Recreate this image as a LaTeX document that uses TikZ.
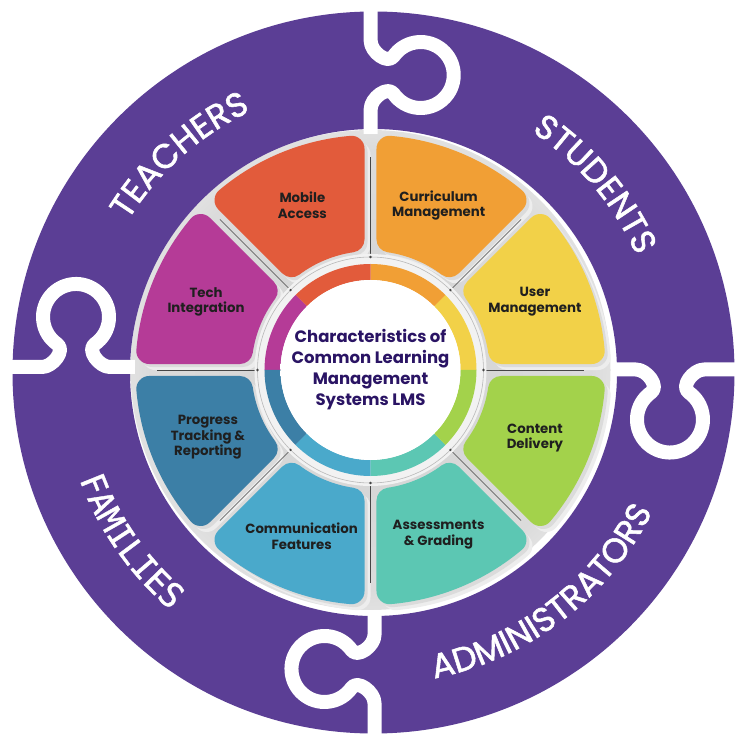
\documentclass[tikz,border=0pt]{standalone}
\usepackage{fontspec}
\setmainfont{Poppins}
\newfontfamily\ringfam{Poppins}[FakeBold=1.6]
\newfontfamily\monofam{DejaVu Sans Mono}[FakeBold=1.2]
\usetikzlibrary{decorations.text}

\definecolor{ringpurple}{HTML}{5B3E95}
\definecolor{cUser}{HTML}{F2D148}
\definecolor{cCurr}{HTML}{F19F35}
\definecolor{cMob}{HTML}{E25B3B}
\definecolor{cTech}{HTML}{B53B97}
\definecolor{cProg}{HTML}{3C7FA6}
\definecolor{cComm}{HTML}{4AA9CB}
\definecolor{cAss}{HTML}{5CC7B3}
\definecolor{cCont}{HTML}{A3D24B}
\definecolor{titlepurple}{HTML}{2A1464}

\pgfdeclareradialshading{gapshade}{\pgfpoint{0bp}{0bp}}{color(0bp)=(gray!35); color(23bp)=(gray!28); color(36bp)=(white); color(50bp)=(white)}
\pgfdeclareradialshading{discshade}{\pgfpoint{0bp}{0bp}}{color(0bp)=(white); color(36bp)=(white); color(50bp)=(gray!14)}

\newcommand\ringfont{\ringfam\fontsize{34}{34}\selectfont}
\newcommand\famfont{\monofam\fontsize{33.5}{33.5}\selectfont}

\tikzset{
  seglabel/.style={align=center, font=\bfseries\fontsize{13.3}{15.7}\selectfont, text=black!88},
  titlelabel/.style={align=center, font=\bfseries\fontsize{16.5}{21}\selectfont, text=titlepurple},
  cutband/.style={white, line width=14, line join=round},
  gapline/.style={draw=gray!55!black, line width=0.5},
  segfill/.style={line width=26, line join=round},
}

\begin{document}
\begin{tikzpicture}[x=1pt,y=1pt]
\useasboundingbox (-373,-374) rectangle (373,372);

% soft grey background behind the wheel
\begin{scope}[shift={(-2.5,2)}]
  \shade[shading=gapshade] (0,0) circle[radius=240];
\end{scope}

% purple ring
\fill[ringpurple, even odd rule] (0.5,-0.5) circle[radius=361] (0.5,-0.5) circle[radius=243.5];

% puzzle cuts
\foreach \rot/\off in {0/-2.3,-90/-2.5,180/-1.5,90/5}{
  \begin{scope}[rotate=\rot, xshift=\off pt]
    \draw[cutband] (0,378) -- (0,331) to[out=-90,in=235] (23,315.9)
      arc[start angle=145,end angle=-145,radius=33]
      to[out=125,in=90] (0,263) -- (0,238);
  \end{scope}
}

% ring texts
\path[decorate, decoration={text along path, text={|\ringfont|TEACHERS}, text align=center, text color=white}]
  (171.7:288) arc[start angle=171.7, end angle=91.7, radius=288];
\path[decorate, decoration={text along path, text={|\ringfont|STUDENTS}, text align=center, text color=white}]
  (80.2:288) arc[start angle=80.2, end angle=0.2, radius=288];
\path[decorate, decoration={text along path, text={|\ringfont|ADMINISTRATORS}, text align=center, text color=white}]
  (-102.6:312.5) arc[start angle=-102.6, end angle=-2.6, radius=312.5];
\path[decorate, decoration={text along path, text={|\famfont|FAMILIES}, text align=center, text color=white}]
  (174.9:312.5) arc[start angle=174.9, end angle=254.9, radius=312.5];

% wheel
\begin{scope}[shift={(-2.5,2)}]
  \pgfmathsetmacro\ri{132}
  \pgfmathsetmacro\ro{222}
  \pgfmathsetmacro\dout{asin(19/\ro)}
  \pgfmathsetmacro\din{asin(19/\ri)}
  % shadows
  \foreach \a in {0,45,...,315}{
    \filldraw[segfill, gray!14, shift={(6,-6)}] ({\a+\din}:\ri) -- ({\a+\dout}:\ro)
      arc[start angle={\a+\dout}, end angle={\a+45-\dout}, radius=\ro]
      -- ({\a+45-\din}:\ri) arc[start angle={\a+45-\din}, end angle={\a+\din}, radius=\ri] -- cycle;
  }
  \foreach \a in {0,45,...,315}{
    \filldraw[segfill, gray!28, shift={(3,-3)}] ({\a+\din}:\ri) -- ({\a+\dout}:\ro)
      arc[start angle={\a+\dout}, end angle={\a+45-\dout}, radius=\ro]
      -- ({\a+45-\din}:\ri) arc[start angle={\a+45-\din}, end angle={\a+\din}, radius=\ri] -- cycle;
  }
  % segments
  \foreach \a/\col in {0/cUser,45/cCurr,90/cMob,135/cTech,180/cProg,225/cComm,270/cAss,315/cCont}{
    \filldraw[segfill, \col] ({\a+\din}:\ri) -- ({\a+\dout}:\ro)
      arc[start angle={\a+\dout}, end angle={\a+45-\dout}, radius=\ro]
      -- ({\a+45-\din}:\ri) arc[start angle={\a+45-\din}, end angle={\a+\din}, radius=\ri] -- cycle;
  }
  % divider lines
  \foreach \a in {0,45,...,315}{
    \draw[gapline] (\a:113) -- (\a:213);
  }
  % bezel
  \fill[gray!10] (0,0) circle[radius=116];
  \draw[gray!55, line width=0.6] (0,0) circle[radius=113];
  \foreach \a in {0,45,...,315}{
    \fill[gray!55!black] (\a:113) circle[radius=1.3];
  }
  % coloured inner ring
  \foreach \a/\col in {0/cUser,45/cCurr,90/cMob,135/cTech,180/cProg,225/cComm,270/cAss,315/cCont}{
    \fill[\col] (\a:106) arc[start angle=\a, end angle={\a+45}, radius=106]
      -- ({\a+45}:90) arc[start angle={\a+45}, end angle=\a, radius=90] -- cycle;
  }
  \shade[shading=discshade] (0,0) circle[radius=90];

  % labels
  \node[seglabel] (lUser) at (22.5:178) {User\\Management};
  \node[seglabel] (lCurr) at (67.5:178) {Curriculum\\Management};
  \node[seglabel] (lMob)  at (112.5:178) {Mobile\\Access};
  \node[seglabel] (lTech) at (157.5:178) {Tech\\Integration};
  \node[seglabel] (lProg) at (202.5:176) {Progress\\Tracking \&\\Reporting};
  \node[seglabel] (lComm) at (247.5:180) {Communication\\Features};
  \node[seglabel] (lAss)  at (292.5:178) {Assessments\\\& Grading};
  \node[seglabel] (lCont) at (337.5:178) {Content\\Delivery};
  \node[titlelabel] (title) at (0,0) {Characteristics of\\Common Learning\\Management\\Systems LMS};
\end{scope}
\end{tikzpicture}
\end{document}
